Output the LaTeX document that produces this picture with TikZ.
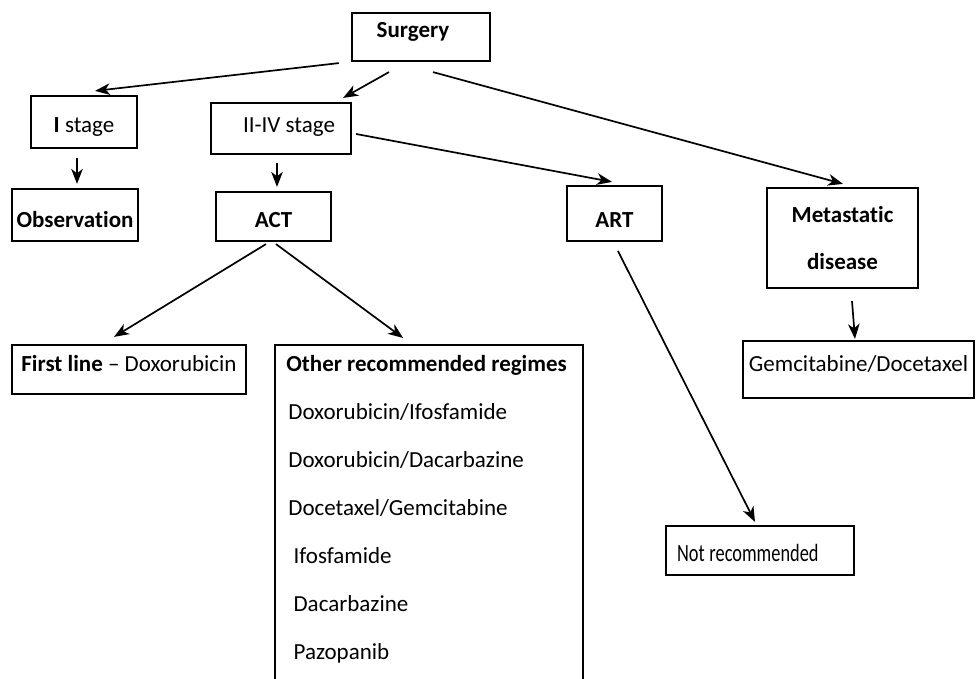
\documentclass[tikz,border=0pt]{standalone}
\usepackage{fontspec}
\setmainfont{Carlito}[RawFeature={-liga;-clig;-calt;-dlig}]
\newfontfamily\condfont{Carlito}[FakeStretch=0.74, RawFeature={-liga;-clig;-calt;-dlig}]
\usetikzlibrary{calc,arrows.meta}
\tikzset{
  box/.style={ % plain rectangle round one step of the scheme
    draw, rectangle, line width=1.1pt, inner sep=0pt,
    font=\fontsize{11.5pt}{14pt}\selectfont, text=black
  },
  shifted/.style 2 args={ % moves the text up or down inside its box
    text height=#1, text depth=#2
  },
  drug/.style={ % one line of the list of regimes
    anchor=west, inner sep=0pt, text height=7.4pt, text depth=0pt,
    font=\fontsize{11.5pt}{14pt}\selectfont
  },
  flow/.style={
    -{Stealth[length=7.5pt,width=5.8pt,inset=2.2pt]}, line width=0.85pt
  }
}

\begin{document}
\begin{tikzpicture}[x=0.5pt, y=-0.5pt]
    \useasboundingbox (0,0) rectangle (976,679);
    \clip (0,0) rectangle (976,679);

    \node[box, minimum width=69pt, minimum height=24pt, shifted={4.4pt}{4pt}] (surgery) at (421,37) {\hspace*{-8pt}\textbf{Surgery}};
    \node[box, minimum width=53pt, minimum height=26pt, shifted={12.4pt}{2pt}] (istage) at (84,122) {\textbf{I} stage};
    \node[box, minimum width=70pt, minimum height=25.5pt, shifted={5.9pt}{2pt}] (iistage) at (281,128.5) {\hspace*{8pt}II-IV stage};
    \node[box, minimum width=63pt, minimum height=26pt, shifted={14.4pt}{2pt}] (observation) at (75,215) {\textbf{Observat\kern0pt ion}};
    \node[box, minimum width=57.5pt, minimum height=24.5pt, shifted={12.9pt}{2pt}] (act) at (273.5,216.5) {\textbf{ACT}};
    \node[box, minimum width=47.5pt, minimum height=27.5pt, shifted={15.9pt}{2pt}] (art) at (614.5,213.5) {\textbf{ART}};
    \node[box, minimum width=75.5pt, minimum height=50pt, align=center] (metastatic) at (842.5,238) {\textbf{Metastat\kern0pt ic}\\[9.5pt]\textbf{disease}};
    \node[box, minimum width=117pt, minimum height=24.5pt, shifted={4.9pt}{3pt}] (firstline) at (129,369.5) {\textbf{First line} – Doxorubicin};
    \node[box, anchor=north west, minimum width=154pt, minimum height=190pt] (other) at (274,344) {};
    \node[box, minimum width=115.5pt, minimum height=28.5pt, shifted={4.9pt}{3pt}] (gemcit) at (858.5,369.5) {Gemcitabine/Docetaxel};
    \node[box, minimum height=24.5pt, text width=83pt, align=left, inner xsep=5.5pt, shifted={12.5pt}{2pt},
      font=\condfont\fontsize{12.4pt}{14pt}\selectfont] (notrec) at (760,550.5) {Not\hspace{2.4pt}recommended};

    % list of the other regimes
    \node[drug, font=\bfseries\fontsize{11.5pt}{14pt}\selectfont] (header) at ($(other.north west)+(12,20)$) {Other recommended regimes};
    \foreach \regime [count=\i] in {Doxorubicin/Ifosfamide, Doxorubicin/Dacarbazine, Docetaxel/Gemcitabine, {\ Ifosfamide}, {\ Dacarbazine}, {\ Pazopanib}}
      \node[drug] (regime\i) at ($(other.north west)+(14,20+48*\i)$) {\regime};

    \draw[flow] ($(surgery.south west)+(-12,1)$) -- ($(istage.north)+(11,-4)$);
    \draw[flow] ($(surgery.south)+(-32,10)$) -- ($(iistage.north east)+(-9,-4)$);
    \draw[flow] ($(surgery.south)+(12,10)$) -- ($(metastatic.north)+(0.5,-3)$);
    \draw[flow] ($(iistage.east)+(4,5.5)$) -- ($(art.north)+(-2.5,-3)$);
    \draw[flow] ($(istage.south)+(-7,9)$) -- ($(observation.north)+(2,-4)$);
    \draw[flow] ($(iistage.south)+(-4,8)$) -- ($(act.north)+(3.5,-4)$);
    \draw[flow] ($(act.south)+(-7.5,2)$) -- ($(firstline.north)+(-15,-7)$);
    \draw[flow] ($(act.south)+(2.5,2)$) -- ($(other.north)+(-26,-6)$);
    \draw[flow] ($(art.south)+(3.5,9)$) -- ($(notrec.north)+(-5,-3)$);
    \draw[flow] ($(metastatic.south)+(9.5,12)$) -- ($(gemcit.north)+(-3.5,-1)$);
\end{tikzpicture}
\end{document}
